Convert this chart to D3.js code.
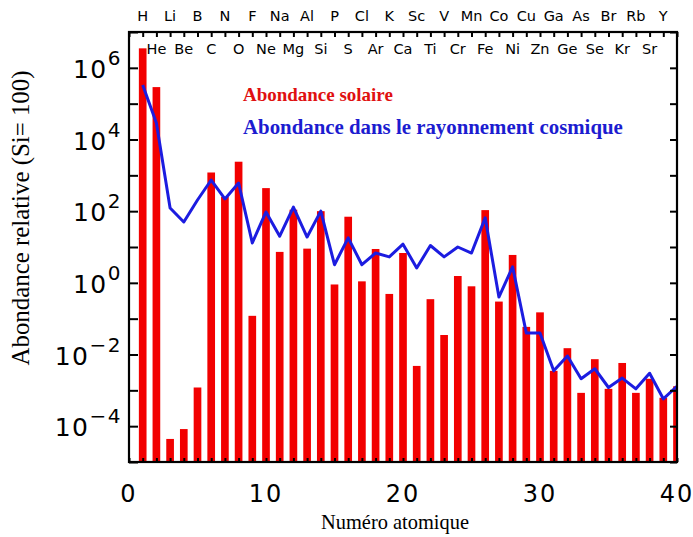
<!DOCTYPE html>
<html><head><meta charset="utf-8">
<script src="https://cdn.jsdelivr.net/npm/d3@7"></script>
<style>body{margin:0;background:#fff}svg{display:block}</style>
</head><body>
<script>
const atomicNumbers = [1,2,3,4,5,6,7,8,9,10,11,12,13,14,15,16,17,18,19,20,21,22,23,24,25,26,27,28,29,30,31,32,33,34,35,36,37,38,39,40];
const solarAbundance = [3.5e6,2.9e5,4.4e-5,8.3e-5,1.2e-3,1200,250,2400,0.12,440,7.3,110,9,100,0.9,70,1.1,8.8,0.49,6.8,0.0048,0.35,0.035,1.55,0.8,107,0.3,6,0.059,0.15,0.0035,0.015,8.5e-4,0.0074,1.1e-3,0.0058,8.5e-4,0.0021,6.2e-4,1.3e-3];
const cosmicAbundance = [3.3e5,2.9e4,123,50,205,740,220,610,13,95,20,130,19,100,3.2,18,3.2,6.8,5.3,12,2.6,11,5.3,10,6.8,65,0.4,2.8,0.04,0.04,0.0035,0.0091,0.0021,0.004,0.0012,0.0022,0.0011,0.003,5.8e-4,0.0013];
const oddElements = ["H","Li","B","N","F","Na","Al","P","Cl","K","Sc","V","Mn","Co","Cu","Ga","As","Br","Rb","Y"];
const oddZ = [1,3,5,7,9,11,13,15,17,19,21,23,25,27,29,31,33,35,37,39];
const evenElements = ["He","Be","C","O","Ne","Mg","Si","S","Ar","Ca","Ti","Cr","Fe","Ni","Zn","Ge","Se","Kr","Sr"];
const evenZ = [2,4,6,8,10,12,14,16,18,20,22,24,26,28,30,32,34,36,38];
const xTickValues = [0,10,20,30,40];
const yLabelExponents = [6,4,2,0,-2,-4];
const yTickExponents = [-5,-4,-3,-2,-1,0,1,2,3,4,5,6,7];
const legendLabels = ["Abondance solaire","Abondance dans le rayonnement cosmique"];
const xTitle = "Numéro atomique";
const yTitle = "Abondance relative (Si= 100)";

const W=693,H=537, L=129,R=677,T=32,B=462;
const svg=d3.select("body").append("svg").attr("width",W).attr("height",H);
const x=d3.scaleLinear().domain([0,40]).range([L,R]);
const y=d3.scaleLog().domain([1e-5,1e7]).range([B,T]);
const bw=(x(1)-x(0))*0.56;

function fitText(sel, base, target){
 const w=sel.node().getComputedTextLength();
 sel.attr("font-size",base*target/w);
}

svg.append("clipPath").attr("id","clip").append("rect").attr("x",L).attr("y",T).attr("width",R-L).attr("height",B-T);
const g=svg.append("g").attr("clip-path","url(#clip)");
g.selectAll("rect.bar").data(atomicNumbers).join("rect").attr("class","bar")
 .attr("x",d=>x(d)-bw/2).attr("width",bw)
 .attr("y",(d,i)=>y(solarAbundance[i])).attr("height",(d,i)=>B-y(solarAbundance[i]))
 .attr("fill","#f20000");
g.append("path").datum(atomicNumbers)
 .attr("d",d3.line().x(d=>x(d)).y((d,i)=>y(cosmicAbundance[i])))
 .attr("fill","none").attr("stroke","#1c1ce0").attr("stroke-width",3).attr("stroke-linejoin","round");

// axes ticks
const ints=d3.range(0,41);
const axBottom=svg.append("g").attr("transform",`translate(0,${B})`)
 .call(d3.axisTop(x).tickValues(ints).tickSize(4).tickFormat(""));
const axTop=svg.append("g").attr("transform",`translate(0,${T})`)
 .call(d3.axisBottom(x).tickValues(ints).tickSize(5).tickFormat(""));
const axLeft=svg.append("g").attr("transform",`translate(${L},0)`)
 .call(d3.axisRight(y).tickValues(yTickExponents.map(e=>Math.pow(10,e))).tickSize(9).tickFormat(""));
const axRight=svg.append("g").attr("transform",`translate(${R},0)`)
 .call(d3.axisLeft(y).tickValues(yTickExponents.map(e=>Math.pow(10,e))).tickSize(7).tickFormat(""));
[axBottom,axTop,axLeft,axRight].forEach(a=>{a.select(".domain").remove();a.selectAll("line").attr("stroke","#000").attr("stroke-width",2);});
svg.append("rect").attr("x",L).attr("y",T).attr("width",R-L).attr("height",B-T)
 .attr("fill","none").attr("stroke","#000").attr("stroke-width",2.2);

// x tick labels
svg.append("g").selectAll("text").data(xTickValues).join("text")
 .attr("x",d=>x(d)).attr("y",502).attr("text-anchor","middle")
 .attr("font-family","DejaVu Sans").attr("font-size",24).attr("letter-spacing",2)
 .text(d=>d);
// y tick labels
const yl=svg.append("g").selectAll("text").data(yLabelExponents).join("text")
 .attr("x",122).attr("y",d=>y(Math.pow(10,d))+10).attr("text-anchor","end")
 .attr("font-family","DejaVu Sans").attr("font-size",25).attr("letter-spacing",1.5);
yl.append("tspan").text("10");
yl.append("tspan").attr("dy",-13).attr("font-size",20).text(d=>d<0?"\u2212"+(-d):d);

// element labels
svg.append("g").selectAll("text").data(oddElements).join("text")
 .attr("x",(d,i)=>x(oddZ[i])).attr("y",21).attr("text-anchor","middle")
 .attr("font-family","DejaVu Sans").attr("font-size",14.5).text(d=>d);
svg.append("g").selectAll("text").data(evenElements).join("text")
 .attr("x",(d,i)=>x(evenZ[i])).attr("y",54).attr("text-anchor","middle")
 .attr("font-family","DejaVu Sans").attr("font-size",14.5).text(d=>d);

// legend
const legColors=["#e01010","#1c1cd0"], legY=[101,134], legW=[150,380];
legendLabels.forEach((t,i)=>{
 const tx=svg.append("text").attr("x",243).attr("y",legY[i]).attr("fill",legColors[i])
  .attr("font-family","Liberation Serif").attr("font-weight","bold").attr("font-size",18).text(t);
 fitText(tx,18,legW[i]);
});

// axis titles
const xt=svg.append("text").attr("x",(L+R)/2-8).attr("y",529).attr("text-anchor","middle")
 .attr("font-family","Liberation Serif").attr("font-size",17).text(xTitle);
fitText(xt,17,148);
const ytt=svg.append("text").attr("transform","translate(29,218) rotate(-90)").attr("text-anchor","middle")
 .attr("font-family","Liberation Serif").attr("font-size",17).text(yTitle);
fitText(ytt,17,295);
</script>
</body></html>
